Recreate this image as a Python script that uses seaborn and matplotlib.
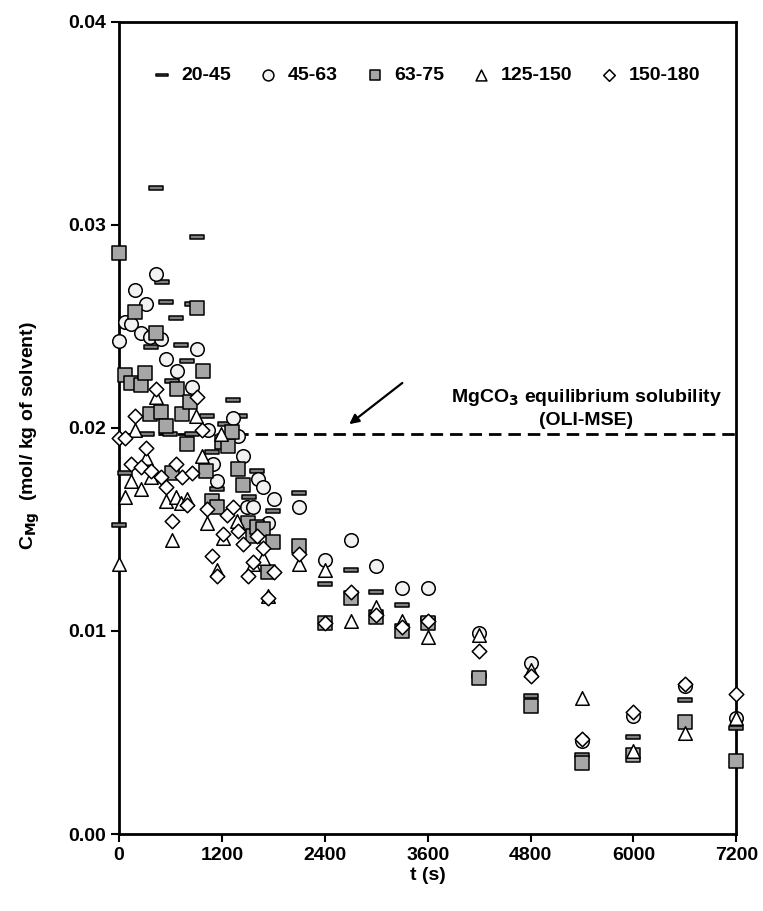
import numpy as np
import pandas as pd
import matplotlib
matplotlib.use('Agg')
import matplotlib.pyplot as plt
import seaborn as sns
from matplotlib.path import Path

# particle size classes (um)
labels = ['20-45', '45-63', '63-75', '125-150', '150-180']

# 20-45
t_2045 = [0, 70, 327, 373, 432, 500, 548, 595, 618, 665, 723, 793, 852, 852, 910,
          1027, 1085, 1144, 1237, 1330, 1412, 1517, 1610, 1797, 2100,
          2400, 2700, 3000, 3300, 3600, 4200, 4800, 5400, 6000, 6600, 7200]
c_2045 = [0.0152, 0.0178, 0.0197, 0.0240, 0.0318, 0.0272, 0.0262, 0.0197, 0.0223, 0.0254, 0.0241, 0.0233, 0.0261, 0.0197, 0.0294,
          0.0206, 0.0188, 0.0170, 0.0202, 0.0214, 0.0206, 0.0166, 0.0179, 0.0159, 0.0168,
          0.0123, 0.0130, 0.0119, 0.0113, 0.0106, 0.0078, 0.0068, 0.0039, 0.0048, 0.0066, 0.0052]

# 45-63
t_4563 = [0, 70, 140, 187, 257, 315, 362, 432, 490, 548, 677, 852, 910,
          1039, 1097, 1144, 1330, 1389, 1447, 1494, 1564, 1622, 1680, 1739, 1809, 2100,
          2400, 2700, 3000, 3300, 3600, 4200, 4800, 5400, 6000, 6600, 7200]
c_4563 = [0.0243, 0.0252, 0.0251, 0.0268, 0.0247, 0.0261, 0.0245, 0.0276, 0.0244, 0.0234, 0.0228, 0.0220, 0.0239,
          0.0199, 0.0182, 0.0174, 0.0205, 0.0196, 0.0186, 0.0161, 0.0161, 0.0175, 0.0171, 0.0153, 0.0165, 0.0161,
          0.0135, 0.0145, 0.0132, 0.0121, 0.0121, 0.0099, 0.0084, 0.0046, 0.0058, 0.0073, 0.0057]

# 63-75
t_6375 = [0, 70, 140, 187, 257, 303, 362, 432, 490, 548, 618, 677, 735, 793, 828, 910, 980,
          1015, 1085, 1144, 1202, 1272, 1318, 1389, 1447, 1505, 1564, 1610, 1680, 1739, 1797, 2100,
          2400, 2700, 3000, 3300, 3600, 4200, 4800, 5400, 6000, 6600, 7200]
c_6375 = [0.0286, 0.0226, 0.0222, 0.0257, 0.0221, 0.0227, 0.0207, 0.0247, 0.0208, 0.0201, 0.0178, 0.0219, 0.0207, 0.0192, 0.0213, 0.0259, 0.0228,
          0.0179, 0.0164, 0.0161, 0.0193, 0.0191, 0.0198, 0.0180, 0.0172, 0.0153, 0.0147, 0.0151, 0.0150, 0.0129, 0.0144, 0.0142,
          0.0104, 0.0116, 0.0107, 0.0100, 0.0104, 0.0077, 0.0063, 0.0035, 0.0039, 0.0055, 0.0036]

# 125-150
t_125150 = [0, 70, 140, 187, 257, 315, 373, 432, 548, 618, 665, 723, 793, 898, 968,
            1027, 1144, 1190, 1213, 1377, 1564, 1680, 1739, 2100,
            2400, 2700, 3000, 3300, 3600, 4200, 4800, 5400, 6000, 6600, 7200]
c_125150 = [0.0133, 0.0166, 0.0174, 0.0199, 0.0170, 0.0185, 0.0176, 0.0215, 0.0164, 0.0145, 0.0166, 0.0163, 0.0165, 0.0206, 0.0186,
            0.0153, 0.0130, 0.0197, 0.0146, 0.0154, 0.0133, 0.0136, 0.0117, 0.0133,
            0.0130, 0.0105, 0.0112, 0.0105, 0.0097, 0.0098, 0.0081, 0.0067, 0.0041, 0.0050, 0.0057]

# 150-180
t_150180 = [0, 70, 140, 187, 257, 315, 373, 432, 490, 548, 618, 665, 735, 793, 852, 910, 968,
            1027, 1085, 1144, 1213, 1260, 1330, 1389, 1447, 1505, 1564, 1610, 1680, 1739, 1809, 2100,
            2400, 2700, 3000, 3300, 3600, 4200, 4800, 5400, 6000, 6600, 7200]
c_150180 = [0.0195, 0.0195, 0.0182, 0.0206, 0.0181, 0.0190, 0.0179, 0.0219, 0.0176, 0.0171, 0.0154, 0.0182, 0.0176, 0.0162, 0.0178, 0.0215, 0.0199,
            0.0160, 0.0137, 0.0127, 0.0148, 0.0157, 0.0161, 0.0149, 0.0143, 0.0127, 0.0134, 0.0147, 0.0141, 0.0116, 0.0129, 0.0138,
            0.0104, 0.0119, 0.0108, 0.0102, 0.0105, 0.0090, 0.0078, 0.0047, 0.0060, 0.0074, 0.0069]

c_eq = 0.0197  # MgCO3 equilibrium solubility (OLI-MSE)

series = [(t_2045, c_2045), (t_4563, c_4563), (t_6375, c_6375), (t_125150, c_125150), (t_150180, c_150180)]
frames = []
for lab, (t, c) in zip(labels, series):
    frames.append(pd.DataFrame({'t': t, 'c': c, 'size': lab}))
df = pd.concat(frames, ignore_index=True)

# dash marker = flat rectangle
dash = Path([(-1, -0.24), (1, -0.24), (1, 0.24), (-1, 0.24), (-1, -0.24)],
            [Path.MOVETO, Path.LINETO, Path.LINETO, Path.LINETO, Path.CLOSEPOLY])
markers = {'20-45': dash, '45-63': 'o', '63-75': 's', '125-150': '^', '150-180': 'D'}
fills = {'20-45': '#7f7f7f', '45-63': '#f2f2f2', '63-75': '#a6a6a6', '125-150': 'white', '150-180': 'white'}
sizes = {'20-45': 100, '45-63': 95, '63-75': 90, '125-150': 95, '150-180': 55}

sns.set_style('white')
plt.rcParams['font.family'] = ['Liberation Sans', 'DejaVu Sans']
plt.rcParams['font.weight'] = 'bold'
plt.rcParams['text.color'] = 'black'
plt.rcParams['axes.labelcolor'] = 'black'
plt.rcParams['xtick.color'] = 'black'
plt.rcParams['ytick.color'] = 'black'
plt.rcParams['mathtext.default'] = 'bf'

fig = plt.figure(figsize=(7.63, 9.11), dpi=100)
ax = fig.add_axes([0.156, 0.0845, 0.809, 0.8915])

for lab in labels:
    sub = df[df['size'] == lab]
    sns.scatterplot(data=sub, x='t', y='c', ax=ax, marker=markers[lab], color=fills[lab],
                    edgecolor='black', linewidth=1.1, s=sizes[lab], label=lab,
                    clip_on=False, zorder=3)

ax.axhline(c_eq, color='black', lw=2, ls=(0, (4.5, 2.5)), zorder=2)
ax.annotate('', xy=(2660, 0.0201), xytext=(3330, 0.0223),
            arrowprops=dict(arrowstyle='-|>', color='black', lw=1.6, mutation_scale=14))
ax.text(5450, 0.0210, 'MgCO$_3$ equilibrium solubility\n(OLI-MSE)', ha='center', va='center',
        fontsize=14, fontweight='bold', linespacing=1.3)

ax.set_xlim(0, 7200)
ax.set_ylim(0, 0.04)
ax.set_xticks(np.arange(0, 7201, 1200))
ax.set_yticks([0.00, 0.01, 0.02, 0.03, 0.04])
ax.set_yticklabels(['0.00', '0.01', '0.02', '0.03', '0.04'])
ax.tick_params(axis='both', direction='out', length=6, width=1.5, labelsize=14, bottom=True, left=True)
for lbl in ax.get_xticklabels() + ax.get_yticklabels():
    lbl.set_fontweight('bold')
for sp in ax.spines.values():
    sp.set_linewidth(2)
    sp.set_color('black')

ax.set_xlabel('t (s)', fontsize=14, fontweight='bold', labelpad=2)
ax.set_ylabel('C$_{Mg}$  (mol/ kg of solvent)', fontsize=14, fontweight='bold', labelpad=6)
ax.yaxis.set_label_coords(-0.125, 0.49)

leg = ax.legend(loc='upper center', bbox_to_anchor=(0.49, 0.955), ncol=5, frameon=False,
                fontsize=14, markerscale=0.8, handletextpad=0.0, columnspacing=0.9, borderaxespad=0)
for txt in leg.get_texts():
    txt.set_fontweight('bold')

fig.savefig('out.png', dpi=100)
